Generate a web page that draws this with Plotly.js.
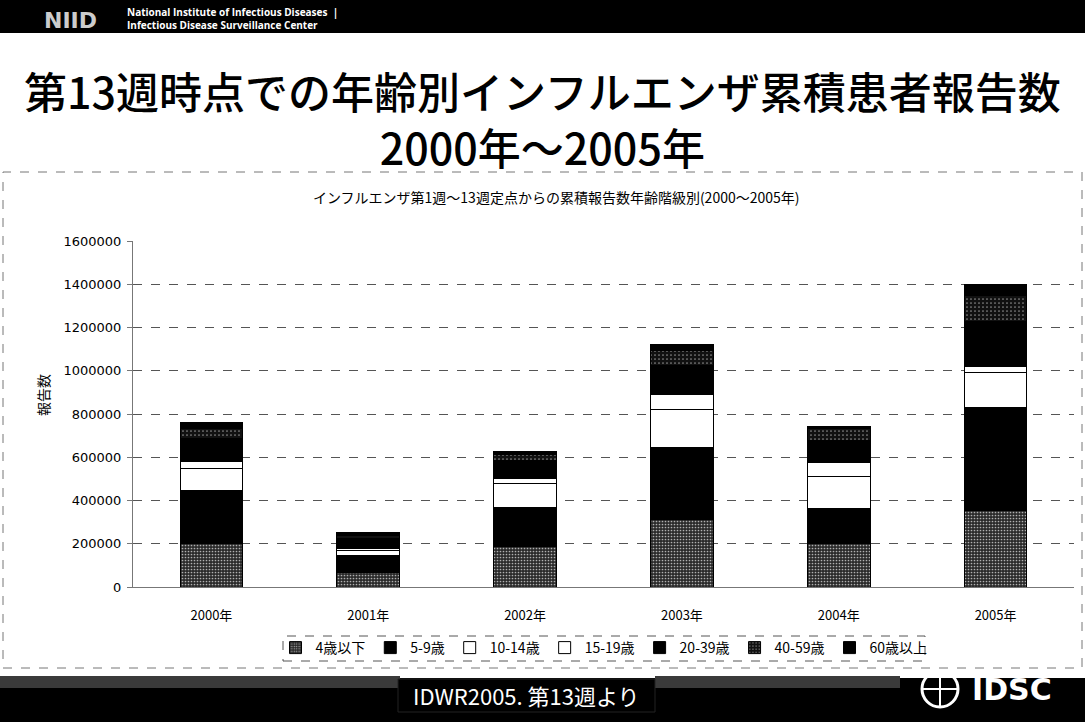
<!DOCTYPE html>
<html>
<head>
<meta charset="utf-8">
<script src="https://cdn.plot.ly/plotly-3.0.1.min.js"></script>
<style>
html,body{margin:0;padding:0;background:#fff;}
#chart{width:1085px;height:722px;}
</style>
</head>
<body>
<div id="chart"></div>
<script>
// ---- data ----
const years = ['2000年','2001年','2002年','2003年','2004年','2005年'];
const age0_4   = [202000, 69000, 185000, 311000, 200000, 355000];
const age5_9   = [246000, 77000, 182000, 332000, 165000, 475000];
const age10_14 = [98000, 22000, 111000, 180000, 148000, 162000];
const age15_19 = [34000, 10000, 23000, 69000, 61000, 28000];
const age20_39 = [106000, 45000, 85000, 130000, 102000, 206000];
const age40_59 = [46000, 15000, 28000, 70000, 55000, 123000];
const age60    = [30000, 12000, 11000, 28000, 11000, 51000];
const seriesNames = ['4歳以下','5-9歳','10-14歳','15-19歳','20-39歳','40-59歳','60歳以上'];
const yTicks = [0,200000,400000,600000,800000,1000000,1200000,1400000,1600000];

const JP = '"Noto Sans CJK JP", "Noto Sans", sans-serif';
const series = [age0_4, age5_9, age10_14, age15_19, age20_39, age40_59, age60];
const styles = [
  {color:'#2a2a2a', pattern:{shape:'.', bgcolor:'#2a2a2a', fgcolor:'#b0b0b0', size:3, solidity:0.25}},
  {color:'#000000'},
  {color:'#ffffff'},
  {color:'#ffffff'},
  {color:'#000000'},
  {color:'#111111', pattern:{shape:'.', bgcolor:'#111111', fgcolor:'#8a8a8a', size:4, solidity:0.15}},
  {color:'#000000'}
];
const traces = series.map((vals,i)=>{
  const m = {color: styles[i].color, line:{color:'#000', width:1}};
  if (styles[i].pattern) m.pattern = styles[i].pattern;
  return {type:'bar', x:years, y:vals, name:seriesNames[i], marker:m,
          hovertemplate:'%{x} '+seriesNames[i]+': %{y}<extra></extra>'};
});

// pixel -> paper helpers (plot area: x 133..1074, y 241..587)
const L=133, W=941, B=587, H=346;
const px = v => (v-L)/W;
const py = v => (B-v)/H;

const shapes = [
  // header band
  {type:'rect', xref:'paper', yref:'paper', x0:px(0), x1:px(1085), y0:py(0), y1:py(33), fillcolor:'#000', line:{width:0}, layer:'below'},
  // footer band
  {type:'rect', xref:'paper', yref:'paper', x0:px(0), x1:px(1085), y0:py(678), y1:py(722), fillcolor:'#000', line:{width:0}, layer:'below'},
  {type:'rect', xref:'paper', yref:'paper', x0:px(0), x1:px(400), y0:py(676), y1:py(688), fillcolor:'#3a3a3a', line:{width:0}, layer:'below'},
  {type:'rect', xref:'paper', yref:'paper', x0:px(655), x1:px(900), y0:py(676), y1:py(688), fillcolor:'#3a3a3a', line:{width:0}, layer:'below'},
  // chart border (dashed)
  {type:'rect', xref:'paper', yref:'paper', x0:px(3), x1:px(1082), y0:py(668), y1:py(172), line:{color:'#777', width:1, dash:'dash'}, layer:'below'},
  // legend border (dashed)
  {type:'rect', xref:'paper', yref:'paper', x0:px(283), x1:px(925), y0:py(661), y1:py(636), line:{color:'#555', width:1, dash:'dash'}, layer:'below'},
  // footer label box
  {type:'rect', xref:'paper', yref:'paper', x0:px(398), x1:px(655), y0:py(712), y1:py(679), fillcolor:'#000', line:{color:'#222', width:1}},
  // IDSC globe
  {type:'circle', xref:'paper', yref:'paper', x0:px(922), x1:px(958), y0:py(707), y1:py(671), line:{color:'#fff', width:3}},
  {type:'line', xref:'paper', yref:'paper', x0:px(940), x1:px(940), y0:py(707), y1:py(671), line:{color:'#fff', width:2}},
  {type:'line', xref:'paper', yref:'paper', x0:px(922), x1:px(958), y0:py(689), y1:py(689), line:{color:'#fff', width:2}}
];

const annotations = [
  {text:'NIID', x:px(70), y:py(20), xref:'paper', yref:'paper', showarrow:false, font:{family:'"DejaVu Sans"', size:22, color:'#ccc', weight:'bold'}, xanchor:'center', yanchor:'middle'},
  {text:'National Institute of Infectious Diseases  |<br>Infectious Disease Surveillance Center', x:px(125), y:py(18), xref:'paper', yref:'paper', showarrow:false, align:'left', font:{family:'"Open Sans"', size:10, color:'#fff', weight:'bold'}, xanchor:'left', yanchor:'middle'},
  {text:'第13週時点での年齢別インフルエンザ累積患者報告数<br>2000年〜2005年', x:px(542), y:py(118), xref:'paper', yref:'paper', showarrow:false, align:'center', font:{family:JP, size:43, color:'#000', weight:500}, xanchor:'center', yanchor:'middle'},
  {text:'インフルエンザ第1週～13週定点からの累積報告数年齢階級別(2000～2005年)', x:px(556), y:py(197), xref:'paper', yref:'paper', showarrow:false, font:{family:JP, size:14, color:'#000'}, xanchor:'center', yanchor:'middle'},
  {text:'報告数', x:px(43), y:py(395), xref:'paper', yref:'paper', showarrow:false, textangle:-90, font:{family:JP, size:14, color:'#000'}, xanchor:'center', yanchor:'middle'},
  {text:'IDWR2005. 第13週より', x:px(526), y:py(695), xref:'paper', yref:'paper', showarrow:false, font:{family:JP, size:22, color:'#fff'}, xanchor:'center', yanchor:'middle'},
  {text:'IDSC', x:px(1012), y:py(689), xref:'paper', yref:'paper', showarrow:false, font:{family:'"DejaVu Sans"', size:30, color:'#fff', weight:'bold'}, xanchor:'center', yanchor:'middle'}
];

const layout = {
  width:1085, height:722,
  margin:{l:L, r:1085-L-W, t:241, b:722-B, autoexpand:false},
  paper_bgcolor:'#fff', plot_bgcolor:'#fff',
  barmode:'stack', bargap:0.6,
  font:{family:JP, color:'#000'},
  showlegend:true,
  legend:{orientation:'h', x:px(604), y:py(648), xanchor:'center', yanchor:'middle',
          font:{family:JP, size:14, color:'#000'}, bgcolor:'rgba(0,0,0,0)', traceorder:'normal',
          itemwidth:30, tracegroupgap:0},
  xaxis:{type:'category', categoryarray:years, showline:true, linecolor:'#777', linewidth:1,
         ticks:'', tickfont:{family:JP, size:13, color:'#000'}, ticklabelstandoff:16, showgrid:false, zeroline:false},
  yaxis:{range:[0,1600000], tickvals:yTicks, ticktext:yTicks.map(String), showline:true, linecolor:'#777',
         ticks:'outside', ticklen:5, tickcolor:'#777', tickfont:{family:'"DejaVu Sans"', size:13, color:'#000'},
         ticklabelstandoff:3, showgrid:true, gridcolor:'#555', griddash:'dash', gridwidth:1, zeroline:false},
  shapes:shapes, annotations:annotations
};

Plotly.newPlot('chart', traces, layout, {displayModeBar:false, staticPlot:true});
</script>
</body>
</html>
